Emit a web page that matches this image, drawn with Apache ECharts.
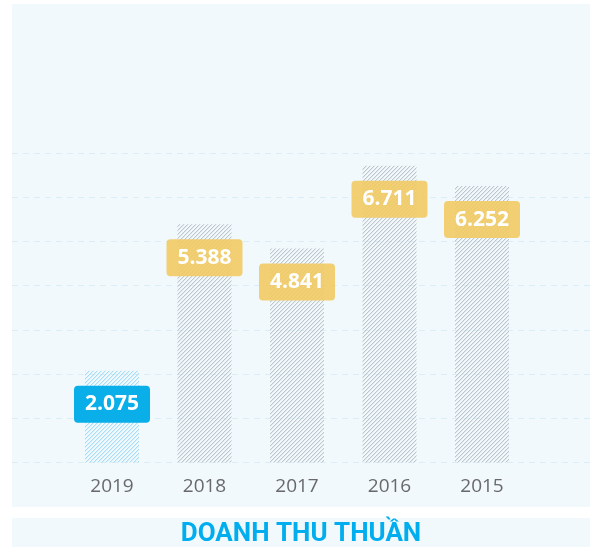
<!DOCTYPE html>
<html>
<head>
<meta charset="utf-8">
<script src="https://cdn.jsdelivr.net/npm/echarts@6/dist/echarts.min.js"></script>
<style>
  html, body { margin: 0; padding: 0; background: #ffffff; }
  #main { width: 590px; height: 547px; }
</style>
</head>
<body>
<div id="main"></div>
<script>
// du lieu
var years = ['2019', '2018', '2017', '2016', '2015'];
var revenue = [2075, 5388, 4841, 6711, 6252];
var chartTitle = 'DOANH THU THUẦN';

var panelColor = '#f1f9fd';

// tao hoa van gach cheo cho cot
function hatch(r, g, b) {
  var c = document.createElement('canvas');
  c.width = 4; c.height = 4;
  var ctx = c.getContext('2d');
  for (var i = 0; i < 4; i++) {
    ctx.fillStyle = 'rgba(' + r + ',' + g + ',' + b + ',0.9)';
    ctx.fillRect(i, 3 - i, 1, 1);
    ctx.fillStyle = 'rgba(' + r + ',' + g + ',' + b + ',0.25)';
    ctx.fillRect(i, (4 - i) % 4, 1, 1);
  }
  return { image: c, repeat: 'repeat' };
}

var grayHatch = hatch(184, 192, 198);
var blueHatch = hatch(160, 215, 244);

function fmt(v) {
  var s = String(v);
  return s.slice(0, s.length - 3) + '.' + s.slice(s.length - 3);
}

var barData = revenue.map(function (v, i) {
  var first = i === 0;
  return {
    value: v,
    itemStyle: { color: first ? blueHatch : grayHatch },
    label: {
      backgroundColor: first ? '#0aaee9' : 'rgba(241, 202, 99, 0.9)'
    }
  };
});

var myChart = echarts.init(document.getElementById('main'));

var option = {
  animation: false,
  graphic: [
    { type: 'rect', z: -10, shape: { x: 12, y: 4, width: 578, height: 503 }, style: { fill: panelColor } },
    { type: 'rect', z: -10, shape: { x: 12, y: 518, width: 578, height: 29 }, style: { fill: panelColor } },
    {
      type: 'text', x: 301, y: 534,
      style: {
        text: chartTitle,
        align: 'center', verticalAlign: 'middle',
        fill: '#00aeef',
        font: 'bold 26px Roboto'
      }
    }
  ],
  grid: [
    { left: 12, right: 0, top: 153, bottom: 84.5 },
    { left: 65.75, right: 61.75, top: 153, bottom: 84.5 }
  ],
  xAxis: [
    { gridIndex: 0, type: 'value', min: 0, max: 1, show: false },
    {
      gridIndex: 1,
      type: 'category',
      data: years,
      axisLine: { show: false },
      axisTick: { show: false },
      axisLabel: {
        color: '#69696c',
        fontFamily: 'Open Sans',
        fontSize: 19,
        margin: 15
      }
    }
  ],
  yAxis: [
    {
      gridIndex: 0,
      type: 'value',
      min: 0, max: 7000, interval: 1000,
      axisLine: { show: false },
      axisTick: { show: false },
      axisLabel: { show: false },
      splitLine: { lineStyle: { color: '#dbedf7', width: 1, type: [6, 5] } }
    },
    {
      gridIndex: 1,
      type: 'value',
      min: 0, max: 7000, interval: 1000,
      show: false,
      splitLine: { show: false }
    }
  ],
  series: [
    {
      type: 'bar',
      xAxisIndex: 1,
      yAxisIndex: 1,
      barWidth: 54,
      data: barData,
      label: {
        show: true,
        position: 'insideTop',
        distance: 15,
        formatter: function (p) { return fmt(p.value); },
        color: '#ffffff',
        fontFamily: 'Open Sans',
        fontWeight: 'bold',
        fontSize: 21,
        lineHeight: 23,
        padding: [7, 11, 7, 11],
        borderRadius: 4
      }
    }
  ]
};

myChart.setOption(option);
</script>
</body>
</html>
